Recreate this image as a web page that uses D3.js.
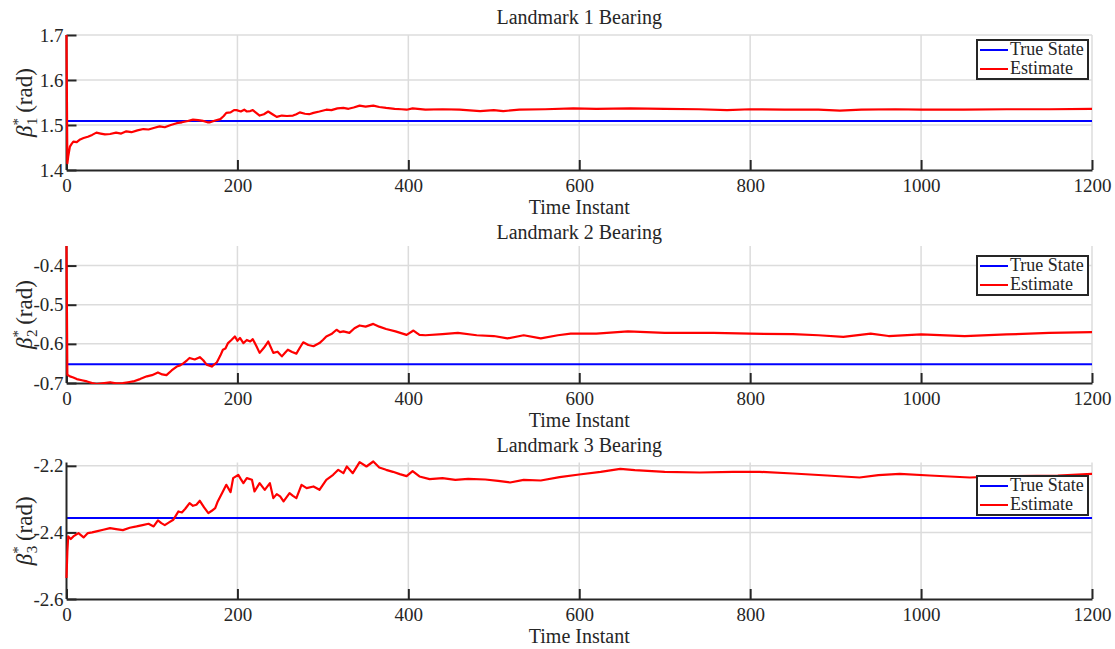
<!DOCTYPE html>
<html>
<head>
<meta charset="utf-8">
<script src="https://cdn.jsdelivr.net/npm/d3@7"></script>
<style>
  html, body { margin: 0; padding: 0; background: #ffffff; }
  svg { display: block; }
  text { font-family: "Liberation Serif", "DejaVu Serif", serif; fill: #262626; }
</style>
</head>
<body>
<svg id="chart" width="1115" height="649"></svg>
<script>
// Time axis shared by all three landmark panels
const timeDomain = [0, 1200];
const timeTicks = [0, 200, 400, 600, 800, 1000, 1200];

// Panel titles and y-axis ranges / ticks
const titles = ["Landmark 1 Bearing", "Landmark 2 Bearing", "Landmark 3 Bearing"];
const yDomains = [[1.4, 1.7], [-0.7, -0.35], [-2.6, -2.19]];
const yTicks = [[1.4, 1.5, 1.6, 1.7], [-0.7, -0.6, -0.5, -0.4], [-2.6, -2.4, -2.2]];

// True bearing of each landmark (rad)
const trueStates = [1.509, -0.652, -2.357];

// Estimated bearing, landmark 1: [time instant, rad]
const estimate1 = [
  [0, 1.70], [1, 1.415], [2, 1.43], [4, 1.452], [6, 1.458], [8, 1.463], [12, 1.462], [16, 1.468],
  [20, 1.471], [25, 1.474], [30, 1.478], [35, 1.483], [40, 1.481], [45, 1.479], [51, 1.480],
  [58, 1.483], [64, 1.481], [70, 1.486], [76, 1.484], [83, 1.488], [90, 1.491], [96, 1.490],
  [103, 1.494], [109, 1.497], [115, 1.495], [122, 1.500], [129, 1.504], [135, 1.506],
  [142, 1.509], [148, 1.512], [154, 1.511], [160, 1.509], [165, 1.506], [168, 1.506],
  [174, 1.510], [180, 1.513], [184, 1.520], [187, 1.527], [192, 1.528], [196, 1.533],
  [199, 1.533], [204, 1.530], [208, 1.534], [211, 1.530], [215, 1.531], [218, 1.533],
  [222, 1.527], [226, 1.521], [231, 1.524], [236, 1.530], [241, 1.524], [246, 1.518],
  [252, 1.521], [258, 1.520], [265, 1.521], [269, 1.524], [273, 1.528], [279, 1.525],
  [284, 1.524], [289, 1.527], [296, 1.530], [304, 1.534], [310, 1.533], [317, 1.537],
  [324, 1.538], [330, 1.536], [336, 1.539], [343, 1.543], [350, 1.541], [359, 1.543],
  [366, 1.540], [374, 1.538], [384, 1.536], [392, 1.535], [398, 1.534], [405, 1.537],
  [420, 1.534], [440, 1.535], [460, 1.534], [484, 1.531], [500, 1.533], [511, 1.531],
  [530, 1.534], [560, 1.535], [593, 1.537], [620, 1.536], [660, 1.537], [700, 1.536],
  [740, 1.535], [773, 1.533], [800, 1.535], [840, 1.534], [880, 1.534], [905, 1.532],
  [930, 1.534], [970, 1.535], [1000, 1.534], [1050, 1.534], [1100, 1.535], [1150, 1.535],
  [1200, 1.536]
];

// Estimated bearing, landmark 2: [time instant, rad]
const estimate2 = [
  [0, -0.35], [1, -0.679], [4, -0.683], [8, -0.686], [12, -0.690], [18, -0.693], [24, -0.696],
  [30, -0.700], [35, -0.703], [42, -0.701], [51, -0.698], [58, -0.701], [66, -0.700],
  [72, -0.698], [78, -0.696], [86, -0.690], [94, -0.683], [100, -0.680], [107, -0.673],
  [112, -0.678], [117, -0.680], [123, -0.668], [129, -0.658], [133, -0.655], [137, -0.649],
  [141, -0.642], [144, -0.636], [150, -0.640], [156, -0.634], [160, -0.642], [164, -0.653],
  [170, -0.658], [176, -0.647], [180, -0.630], [183, -0.615], [186, -0.612], [189, -0.598],
  [193, -0.590], [197, -0.581], [200, -0.592], [203, -0.585], [207, -0.598], [211, -0.590],
  [215, -0.594], [218, -0.588], [222, -0.605], [226, -0.623], [231, -0.610], [236, -0.594],
  [242, -0.623], [247, -0.620], [252, -0.632], [256, -0.622], [259, -0.615], [264, -0.621],
  [269, -0.625], [273, -0.610], [277, -0.596], [283, -0.603], [289, -0.606], [296, -0.598],
  [300, -0.590], [304, -0.581], [310, -0.575], [316, -0.564], [320, -0.570], [324, -0.568],
  [331, -0.572], [337, -0.560], [343, -0.553], [350, -0.556], [359, -0.549], [366, -0.556],
  [374, -0.562], [385, -0.568], [398, -0.577], [406, -0.566], [413, -0.577], [420, -0.578],
  [440, -0.575], [458, -0.572], [480, -0.578], [500, -0.580], [516, -0.586], [535, -0.578],
  [555, -0.586], [575, -0.578], [590, -0.574], [620, -0.574], [657, -0.568], [700, -0.572],
  [757, -0.572], [800, -0.574], [850, -0.575], [880, -0.578], [909, -0.582], [941, -0.574],
  [962, -0.580], [1000, -0.576], [1051, -0.580], [1100, -0.576], [1150, -0.572], [1200, -0.570]
];

// Estimated bearing, landmark 3: [time instant, rad]
const estimate3 = [
  [0, -2.537], [1, -2.457], [2, -2.412], [5, -2.420], [8, -2.412], [14, -2.402], [20, -2.415],
  [25, -2.402], [30, -2.400], [35, -2.397], [43, -2.392], [51, -2.387], [58, -2.390],
  [66, -2.393], [74, -2.386], [82, -2.382], [89, -2.378], [96, -2.374], [102, -2.382],
  [107, -2.364], [111, -2.372], [115, -2.378], [120, -2.370], [125, -2.362], [131, -2.337],
  [135, -2.340], [139, -2.329], [144, -2.312], [148, -2.320], [152, -2.317], [156, -2.305],
  [161, -2.325], [166, -2.342], [170, -2.335], [174, -2.327], [177, -2.307], [183, -2.277],
  [187, -2.257], [192, -2.279], [195, -2.237], [201, -2.227], [204, -2.240], [207, -2.252],
  [211, -2.237], [217, -2.242], [220, -2.277], [226, -2.252], [232, -2.272], [238, -2.252],
  [242, -2.297], [246, -2.285], [250, -2.292], [254, -2.307], [261, -2.282], [265, -2.290],
  [269, -2.297], [275, -2.257], [281, -2.267], [289, -2.262], [296, -2.272], [304, -2.242],
  [312, -2.227], [318, -2.212], [324, -2.222], [328, -2.202], [335, -2.222], [343, -2.189],
  [351, -2.202], [359, -2.187], [366, -2.205], [374, -2.212], [382, -2.218], [390, -2.225],
  [398, -2.231], [405, -2.216], [413, -2.232], [425, -2.240], [440, -2.237], [455, -2.242],
  [470, -2.239], [490, -2.241], [505, -2.245], [519, -2.250], [535, -2.242], [555, -2.244],
  [577, -2.234], [600, -2.226], [625, -2.218], [648, -2.209], [665, -2.213], [700, -2.218],
  [741, -2.220], [780, -2.218], [811, -2.218], [850, -2.223], [890, -2.229], [928, -2.235],
  [950, -2.228], [975, -2.224], [1010, -2.229], [1057, -2.235], [1100, -2.231], [1160, -2.229],
  [1200, -2.224]
];

const estimates = [estimate1, estimate2, estimate3];
const subscripts = ["1", "2", "3"];

// Plot-area geometry for the three stacked panels
const left = 66.5, right = 1092;
const panelBoxes = [
  { top: 35, bottom: 170, titleY: 24, legendY: 40 },
  { top: 246, bottom: 383, titleY: 239, legendY: 256 },
  { top: 462.5, bottom: 599, titleY: 452, legendY: 476 }
];

const svg = d3.select("#chart");
const x = d3.scaleLinear().domain(timeDomain).range([left, right]);
const axisColor = "#262626";
const gridColor = "#dcdcdc";
const tickLen = 10;
const fontSize = 19;

panelBoxes.forEach((box, i) => {
  const y = d3.scaleLinear().domain(yDomains[i]).range([box.bottom, box.top]);
  const g = svg.append("g");

  const clipId = "clip" + i;
  svg.append("clipPath").attr("id", clipId)
    .append("rect").attr("x", left - 2).attr("y", box.top - 3)
    .attr("width", right - left + 4).attr("height", box.bottom - box.top + 4);

  // grid lines
  g.append("g").selectAll("line").data(timeTicks.slice(1)).join("line")
    .attr("x1", d => x(d)).attr("x2", d => x(d))
    .attr("y1", box.top).attr("y2", box.bottom)
    .attr("stroke", gridColor).attr("stroke-width", 1.5);
  g.append("g").selectAll("line").data(yTicks[i].slice(1)).join("line")
    .attr("x1", left).attr("x2", right)
    .attr("y1", d => y(d)).attr("y2", d => y(d))
    .attr("stroke", gridColor).attr("stroke-width", 1.5);

  // true state
  g.append("line")
    .attr("x1", left).attr("x2", right)
    .attr("y1", y(trueStates[i])).attr("y2", y(trueStates[i]))
    .attr("stroke", "#0000ff").attr("stroke-width", 2);

  // axes (inward ticks, left and bottom only)
  const xAxis = d3.axisBottom(x).tickValues(timeTicks).tickSize(0).tickPadding(9)
    .tickFormat(d3.format("d"));
  const xg = g.append("g").attr("transform", `translate(0,${box.bottom})`).call(xAxis);
  xg.attr("font-family", null).attr("font-size", null);
  xg.select(".domain").attr("stroke", axisColor).attr("stroke-width", 2);
  xg.selectAll(".tick text").attr("font-size", fontSize).attr("fill", axisColor);
  xg.selectAll(".tick").append("line")
    .attr("y1", 0).attr("y2", -tickLen).attr("stroke", axisColor).attr("stroke-width", 2);

  const yAxis = d3.axisLeft(y).tickValues(yTicks[i]).tickSize(0).tickPadding(3)
    .tickFormat(d => d3.format(".1f")(d).replace("\u2212", "-"));
  const yg = g.append("g").attr("transform", `translate(${left},0)`).call(yAxis);
  yg.attr("font-family", null).attr("font-size", null);
  yg.select(".domain").attr("stroke", axisColor).attr("stroke-width", 2)
    .attr("d", `M0,${box.top}V${box.bottom}`);
  yg.selectAll(".tick text").attr("font-size", fontSize).attr("fill", axisColor);
  yg.selectAll(".tick").append("line")
    .attr("x1", 0).attr("x2", tickLen).attr("stroke", axisColor).attr("stroke-width", 2);

  // estimate (drawn over the axes)
  const line = d3.line().x(d => x(d[0])).y(d => y(d[1]));
  g.append("path").datum(estimates[i])
    .attr("clip-path", `url(#${clipId})`)
    .attr("d", line)
    .attr("fill", "none").attr("stroke", "#ff0000")
    .attr("stroke-width", 2.2).attr("stroke-linejoin", "round");

  // title
  g.append("text").attr("x", (left + right) / 2).attr("y", box.titleY)
    .attr("text-anchor", "middle").attr("font-size", 20).text(titles[i]);

  // x label
  g.append("text").attr("x", (left + right) / 2).attr("y", box.bottom + 44)
    .attr("text-anchor", "middle").attr("font-size", 20).text("Time Instant");

  // y label: β_i^* (rad)
  const yl = g.append("text")
    .attr("transform", `translate(32,${(box.top + box.bottom) / 2}) rotate(-90)`)
    .attr("text-anchor", "middle").attr("font-size", 23).attr("fill", "#404040");
  yl.append("tspan").attr("font-style", "italic").text("β");
  yl.append("tspan").attr("font-size", 15).attr("dy", -9).text("*");
  yl.append("tspan").attr("font-size", 15).attr("dx", -7).attr("dy", 14).text(subscripts[i]);
  yl.append("tspan").attr("dy", -5).text("\u2009(rad)");

  // legend
  const lg = g.append("g").attr("transform", `translate(977,${box.legendY})`);
  lg.append("rect").attr("width", 111).attr("height", 39)
    .attr("fill", "#ffffff").attr("stroke", axisColor).attr("stroke-width", 2);
  [["True State", "#0000ff", 10], ["Estimate", "#ff0000", 29]].forEach(([label, color, yy]) => {
    lg.append("line").attr("x1", 3).attr("x2", 31).attr("y1", yy).attr("y2", yy)
      .attr("stroke", color).attr("stroke-width", 2);
    lg.append("text").attr("x", 33).attr("y", yy + 5).attr("font-size", 18).text(label);
  });
});
</script>
</body>
</html>
